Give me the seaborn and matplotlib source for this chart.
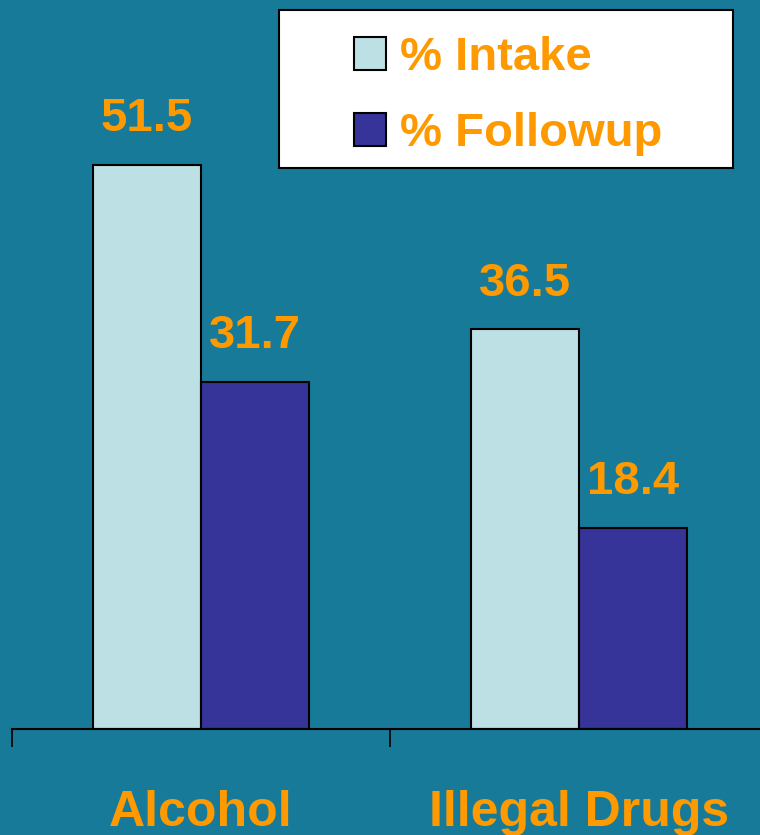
import matplotlib
matplotlib.use("Agg")
import matplotlib.pyplot as plt
import seaborn as sns
import pandas as pd
from matplotlib.patches import Rectangle

categories = ["Alcohol", "Illegal Drugs"]
series = ["% Intake", "% Followup"]
intake = [51.5, 36.5]
followup = [31.7, 18.4]

BG = "#177A99"
LIGHT = "#BCE0E3"
DARK = "#363399"
ORANGE = "#FF9900"

df = pd.DataFrame({
    "category": categories * 2,
    "series": [series[0]] * 2 + [series[1]] * 2,
    "value": intake + followup,
})

sns.set_theme(style="white")
plt.rcParams["font.family"] = ["Liberation Sans", "DejaVu Sans"]
plt.rcParams["font.weight"] = "bold"

W, H = 760, 835
fig = plt.figure(figsize=(W / 100, H / 100), dpi=100, facecolor=BG)
ax = fig.add_axes([12 / W, (H - 729) / H, 756 / W, 729 / H])
ax.set_facecolor(BG)

sns.barplot(data=df, x="category", y="value", hue="series",
            palette=[LIGHT, DARK], saturation=1, width=0.572, gap=0,
            edgecolor="black", linewidth=1.5, ax=ax, legend=False)

ax.set_xlim(-0.5, 1.5)
ax.set_ylim(0, 729 / 10.95)

for cont in ax.containers:
    ax.bar_label(cont, fmt="%.1f", padding=17, color=ORANGE,
                 fontsize=34, fontweight="bold")

for s in ["left", "top", "right"]:
    ax.spines[s].set_visible(False)
ax.spines["bottom"].set_color("black")
ax.spines["bottom"].set_linewidth(1.5)
ax.set_yticks([])
ax.set_xlabel("")
ax.set_ylabel("")

ax.set_xticks([-0.5, 0.5, 1.5])
ax.set_xticklabels(["", "", ""])
ax.tick_params(axis="x", which="major", direction="out", length=13,
               width=1.2, color="black", bottom=True)
ax.set_xticks([0, 1], minor=True)
ax.set_xticklabels(categories, minor=True, color=ORANGE,
                   fontsize=36, fontweight="bold")
ax.tick_params(axis="x", which="minor", length=0, pad=44)

# legend frame
fig.patches.append(Rectangle((279 / W, 1 - 168 / H), 454 / W, 158 / H,
                             transform=fig.transFigure, facecolor="white",
                             edgecolor="black", linewidth=1.5, zorder=5))
handles = [Rectangle((0, 0), 1, 1, facecolor=c, edgecolor="black", linewidth=1.5)
           for c in (LIGHT, DARK)]
leg = fig.legend(handles, series, loc="upper left",
                 bbox_to_anchor=(354 / W, 1 - 36 / H),
                 frameon=False, borderpad=0, borderaxespad=0,
                 handlelength=0.68, handleheight=0.68, handletextpad=0.3,
                 labelspacing=0.68, prop={"size": 34, "weight": "bold"})
leg.set_zorder(6)
for t in leg.get_texts():
    t.set_color(ORANGE)

fig.savefig("out.png", dpi=100, facecolor=BG)
